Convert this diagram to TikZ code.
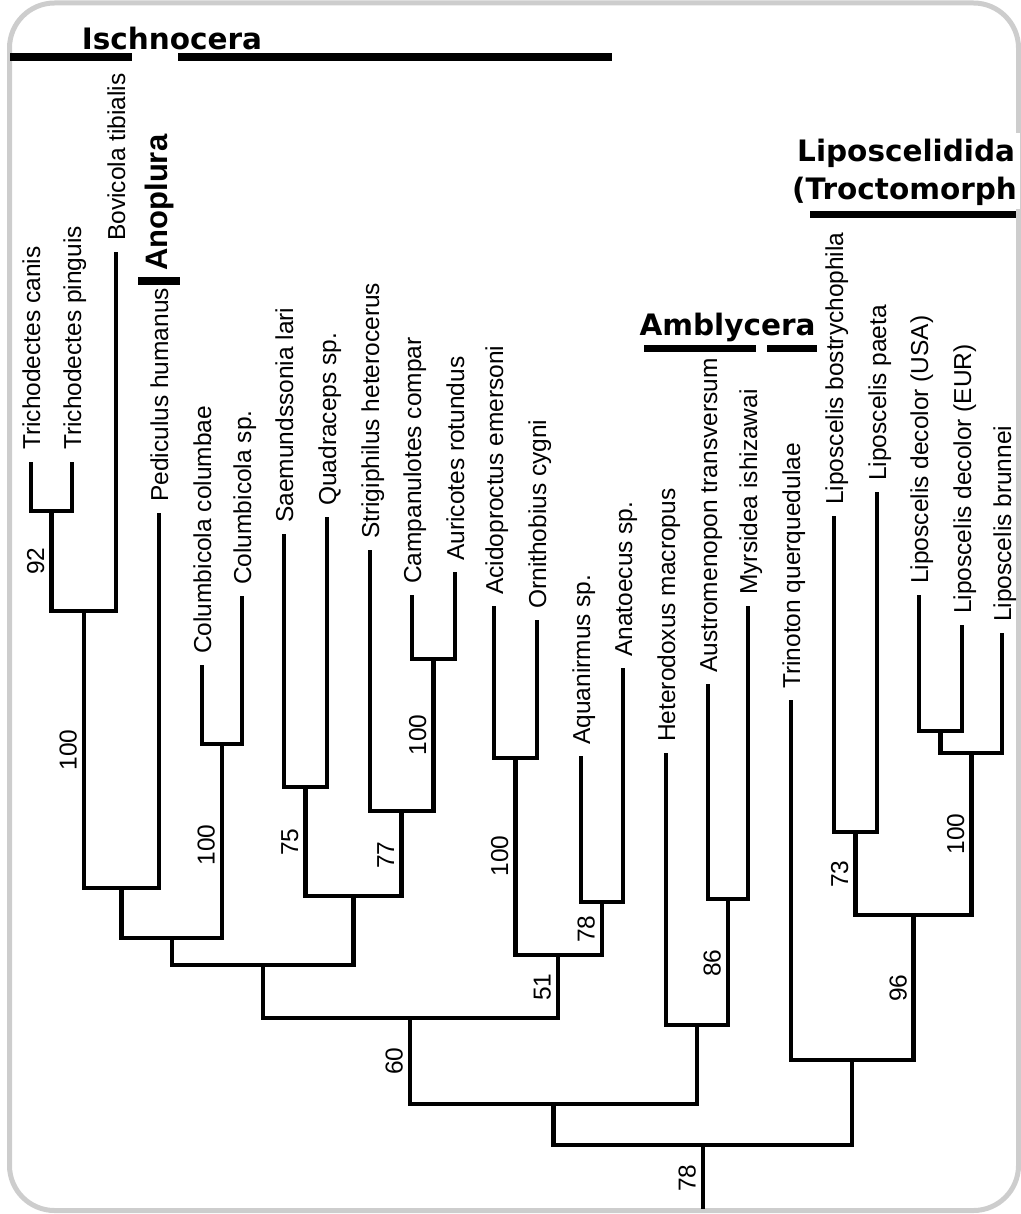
\documentclass[tikz,border=0pt]{standalone}
\usepackage{fontspec}
\setmainfont{Liberation Sans}
\newfontfamily\hdfont{DejaVu Sans}
\definecolor{framegray}{RGB}{205,205,205}
\begin{document}
\begin{tikzpicture}[x=1pt,y=-1pt,
  br/.style={line width=4.5pt,line join=miter},
  leaf/.style={rotate=90,anchor=base west,inner sep=0pt,font=\fontsize{24.5}{28}\selectfont},
  bs/.style={rotate=90,anchor=base,inner sep=0pt,font=\fontsize{24.5}{28}\selectfont},
  grp/.style={inner sep=0pt,font=\hdfont\bfseries\fontsize{29.5}{36}\selectfont},
  grpbar/.style={line width=8pt}]
\useasboundingbox (0,0) rectangle (1020,1214);
% frame
\draw[framegray,line width=5pt,rounded corners=45pt] (9.5,3) rectangle (1018.5,1210.5);
\fill[white] (1008,133) rectangle (1020,209);

% leaf tips
\coordinate (L1) at (31,462);
\coordinate (L2) at (72,462);
\coordinate (L3) at (116,252);
\coordinate (L4) at (159,513);
\coordinate (L5) at (202,665);
\coordinate (L6) at (242,596);
\coordinate (L7) at (284,534);
\coordinate (L8) at (327,517);
\coordinate (L9) at (370,550);
\coordinate (L10) at (412,595);
\coordinate (L11) at (455,572);
\coordinate (L12) at (494,606);
\coordinate (L13) at (537,620);
\coordinate (L14) at (581,756);
\coordinate (L15) at (623,668);
\coordinate (L16) at (666,753);
\coordinate (L17) at (708,684);
\coordinate (L18) at (748,606);
\coordinate (L19) at (791,700);
\coordinate (L20) at (834,516);
\coordinate (L21) at (877,492);
\coordinate (L22) at (919,595);
\coordinate (L23) at (962,625);
\coordinate (L24) at (1002,633);
% internal nodes
\coordinate (N1) at (51.5,511);
\coordinate (N2) at (84,611);
\coordinate (N3) at (121.5,888);
\coordinate (N4) at (222,744);
\coordinate (N5) at (172,938);
\coordinate (N6) at (305.5,787);
\coordinate (N7) at (433.5,659);
\coordinate (N8) at (401.5,811);
\coordinate (N9) at (353.5,896);
\coordinate (N10) at (263,965);
\coordinate (N11) at (515.5,758);
\coordinate (N12) at (602,902);
\coordinate (N13) at (558,955);
\coordinate (N14) at (410,1018);
\coordinate (N15) at (728,899);
\coordinate (N16) at (697,1025);
\coordinate (N17) at (553.5,1104);
\coordinate (N18) at (855.5,832);
\coordinate (N19) at (940.5,731);
\coordinate (N20) at (971.5,753);
\coordinate (N21) at (913.5,915);
\coordinate (N22) at (852,1060);
\coordinate (N23) at (703,1145);
\coordinate (R) at (703,1209);

% branches
\draw[br] (L1) |- (N1) -| (L2);
\draw[br] (N1) |- (N2) -| (L3);
\draw[br] (N2) |- (N3) -| (L4);
\draw[br] (L5) |- (N4) -| (L6);
\draw[br] (N3) |- (N5) -| (N4);
\draw[br] (L7) |- (N6) -| (L8);
\draw[br] (L10) |- (N7) -| (L11);
\draw[br] (L9) |- (N8) -| (N7);
\draw[br] (N6) |- (N9) -| (N8);
\draw[br] (N5) |- (N10) -| (N9);
\draw[br] (L12) |- (N11) -| (L13);
\draw[br] (L14) |- (N12) -| (L15);
\draw[br] (N11) |- (N13) -| (N12);
\draw[br] (N10) |- (N14) -| (N13);
\draw[br] (L17) |- (N15) -| (L18);
\draw[br] (L16) |- (N16) -| (N15);
\draw[br] (N14) |- (N17) -| (N16);
\draw[br] (L20) |- (N18) -| (L21);
\draw[br] (L22) |- (N19) -| (L23);
\draw[br] (N19) |- (N20) -| (L24);
\draw[br] (N18) |- (N21) -| (N20);
\draw[br] (L19) |- (N22) -| (N21);
\draw[br] (N17) |- (N23) -| (N22);
\draw[br] (N23) -- (R);

% leaf labels
\node[leaf] (t1) at (40,450) {Trichodectes canis};
\node[leaf] (t2) at (81,450) {Trichodectes pinguis};
\node[leaf] (t3) at (125,241) {Bovicola tibialis};
\node[leaf] (t4) at (168,502) {Pediculus humanus};
\node[leaf] (t5) at (211,654) {Columbicola columbae};
\node[leaf] (t6) at (251,585) {Columbicola sp.};
\node[leaf] (t7) at (293,523) {Saemundssonia lari};
\node[leaf] (t8) at (336,506) {Quadraceps sp.};
\node[leaf] (t9) at (379,539) {Strigiphilus heterocerus};
\node[leaf] (t10) at (421,584) {Campanulotes compar};
\node[leaf] (t11) at (464,561) {Auricotes rotundus};
\node[leaf] (t12) at (503,595) {Acidoproctus emersoni};
\node[leaf] (t13) at (546,609) {Ornithobius cygni};
\node[leaf] (t14) at (590,745) {Aquanirmus sp.};
\node[leaf] (t15) at (632,657) {Anatoecus sp.};
\node[leaf] (t16) at (675,742) {Heterodoxus macropus};
\node[leaf] (t17) at (717,673) {Austromenopon transversum};
\node[leaf] (t18) at (757,595) {Myrsidea ishizawai};
\node[leaf] (t19) at (800,689) {Trinoton querquedulae};
\node[leaf] (t20) at (843,505) {Liposcelis bostrychophila};
\node[leaf] (t21) at (886,481) {Liposcelis paeta};
\node[leaf] (t22) at (928,584) {Liposcelis decolor (USA)};
\node[leaf] (t23) at (971,614) {Liposcelis decolor (EUR)};
\node[leaf] (t24) at (1011,622) {Liposcelis brunnei};

% bootstrap values
\node[bs] (b1) at (44,561) {92};
\node[bs] (b2) at (76.5,750) {100};
\node[bs] (b3) at (214.5,845) {100};
\node[bs] (b4) at (298,842) {75};
\node[bs] (b5) at (394,855) {77};
\node[bs] (b6) at (426,735) {100};
\node[bs] (b7) at (508,856) {100};
\node[bs] (b8) at (594.5,929) {78};
\node[bs] (b9) at (550.5,987) {51};
\node[bs] (b10) at (402.5,1061) {60};
\node[bs] (b11) at (720.5,963) {86};
\node[bs] (b12) at (848,874) {73};
\node[bs] (b13) at (964,834) {100};
\node[bs] (b14) at (906.5,988) {96};
\node[bs] (b15) at (695.5,1178) {78};

% group labels
\node[grp,anchor=base] (g1) at (172,50) {Ischnocera};
\coordinate (i1a) at (10,57.5);
\coordinate (i1b) at (132,57.5);
\coordinate (i2a) at (178,57.5);
\coordinate (i2b) at (612,57.5);
\draw[grpbar] (i1a) -- (i1b);
\draw[grpbar] (i2a) -- (i2b);

\node[rotate=90,anchor=base west,inner sep=0pt,font=\bfseries\fontsize{31}{36}\selectfont] (g2) at (167,271) {Anoplura};
\coordinate (a1) at (138,281.5);
\coordinate (a2) at (180,281.5);
\draw[grpbar] (a1) -- (a2);

\node[grp,anchor=base] (g3) at (727.5,335) {Amblycera};
\coordinate (m1) at (644,348);
\coordinate (m2) at (756,348);
\coordinate (m3) at (767,348);
\coordinate (m4) at (817,348);
\draw[line width=7pt] (m1) -- (m2);
\draw[line width=7pt] (m3) -- (m4);

\begin{scope}
\clip (780,100) rectangle (1015.5,260);
\node[grp,anchor=base west] (g4) at (797,162) {Liposcelidida};
\node[grp,anchor=base west] (g5) at (792,200) {(Troctomorpha};
\end{scope}
\coordinate (p1) at (810,214.5);
\coordinate (p2) at (1016,214.5);
\draw[line width=7pt] (p1) -- (p2);
\end{tikzpicture}
\end{document}
